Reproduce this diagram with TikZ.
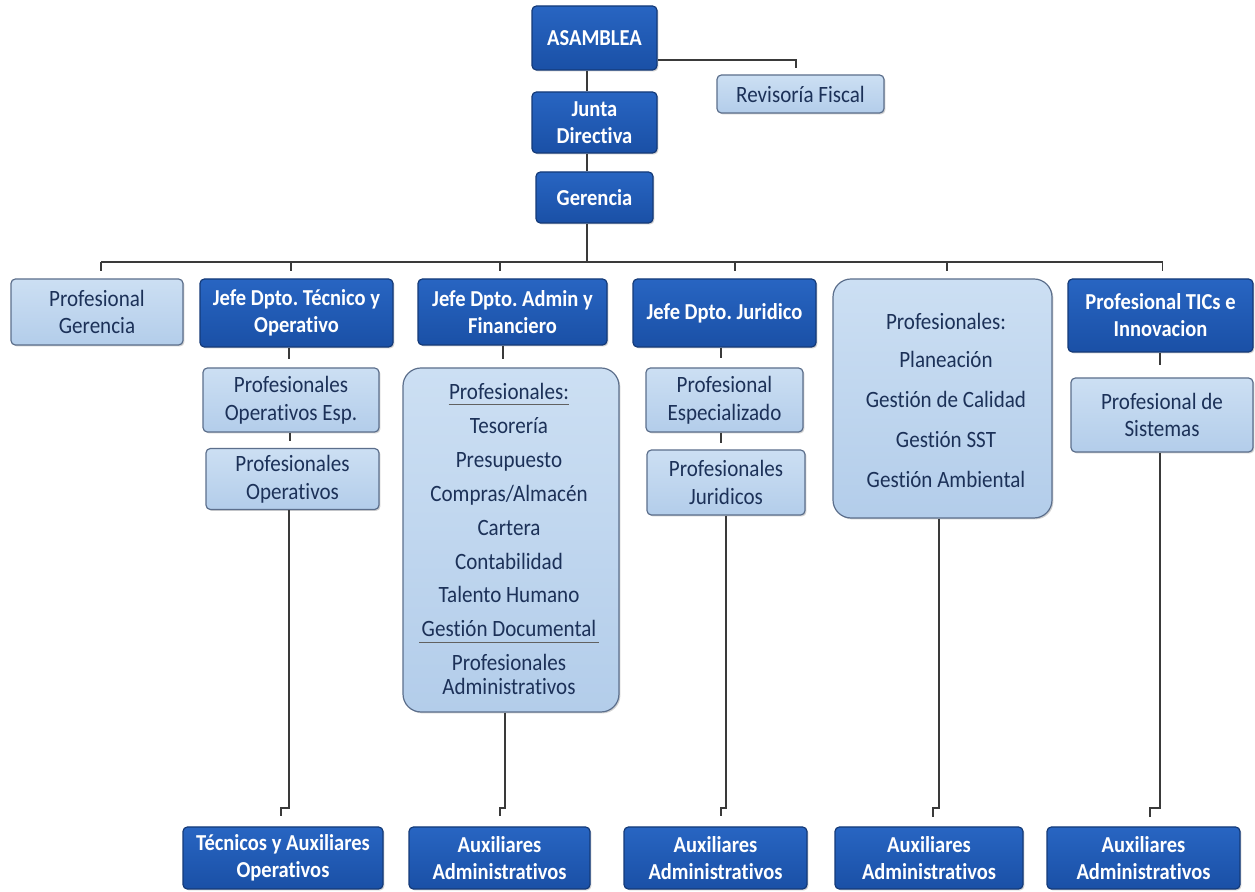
\documentclass[tikz,border=0pt]{standalone}
\usepackage{fontspec}
\setmainfont{Carlito}[FakeStretch=0.9,Ligatures=CommonOff]
\usetikzlibrary{calc,shadows}
\definecolor{dktop}{HTML}{2865C2}
\definecolor{dkbot}{HTML}{1A50A6}
\definecolor{dkline}{HTML}{143A78}
\definecolor{lttop}{HTML}{CCDFF3}
\definecolor{ltbot}{HTML}{B3CDEA}
\definecolor{ltline}{HTML}{5C6F8C}
\definecolor{txt}{HTML}{1C3158}
\definecolor{conn}{HTML}{3A3A3A}
\begin{document}
\frenchspacing
\begin{tikzpicture}[x=0.5pt,y=-0.5pt,
  box/.style={rectangle, rounded corners=2.2pt, line width=0.6pt, align=center, inner sep=1pt,
    drop shadow={shadow xshift=0.7pt, shadow yshift=-0.7pt, opacity=0.18, fill=black}},
  dk/.style={box, draw=dkline, top color=dktop, bottom color=dkbot, text=white,
    font=\fontsize{11.4}{13.5}\selectfont\bfseries},
  lt/.style={box, draw=ltline, top color=lttop, bottom color=ltbot, text=txt,
    font=\fontsize{11.7}{13.8}\selectfont},
  big/.style={lt, rounded corners=9pt},
  item/.style={text=txt, inner sep=0pt, anchor=base, font=\fontsize{11.7}{12}\selectfont},
  ln/.style={draw=conn, line width=0.75pt},
  ul/.style={draw=conn!80, line width=0.5pt}
]
\useasboundingbox (0,0) rectangle (1255,892);
\fill[white] (0,0) rectangle (1255,892);

% top chain
\node[dk, minimum width=62.5pt, minimum height=32pt] (asam) at (594.5,38) {ASAMBLEA};
\node[lt, minimum width=83.5pt, minimum height=19pt] (rev) at (800.5,94) {Revisoría Fiscal};
\node[dk, minimum width=62.5pt, minimum height=30.5pt] (junta) at (594.5,122.5) {Junta\\Directiva};
\node[dk, minimum width=58.5pt, minimum height=25.5pt] (ger) at (594.5,197.5) {Gerencia};

% second row
\node[lt, minimum width=86pt, minimum height=33pt] (pg) at (97,312) {Profesional\\Gerencia};
\node[dk, minimum width=96.5pt, minimum height=34pt] (jt) at (296.5,313) {Jefe Dpto. Técnico y\\Operativo};
\node[dk, minimum width=94.5pt, minimum height=33pt] (ja) at (512.5,312) {Jefe Dpto. Admin y\\Financiero};
\node[dk, minimum width=91.5pt, minimum height=34pt] (jj) at (724.5,313) {Jefe Dpto. Juridico};
\node[big, minimum width=109.5pt, minimum height=119.5pt] (pbig) at (942.5,398.5) {};
\node[dk, minimum width=92.5pt, minimum height=36.5pt] (tics) at (1160.5,315.5) {Profesional TICs e\\Innovacion};

% technical column
\node[lt, minimum width=88pt, minimum height=32pt] (poe) at (291,400) {Profesionales\\Operativos Esp.};
\node[lt, minimum width=86.5pt, minimum height=30.5pt] (po) at (292.5,479) {Profesionales\\Operativos};

% admin column
\node[big, minimum width=108pt, minimum height=172pt] (pa) at (511,540) {};
\node[item] (a1) at (509,400) {Profesionales:};
\node[item] (a2) at (509,434) {Tesorería};
\node[item] (a3) at (509,468) {Presupuesto};
\node[item] (a4) at (509,502) {Compras/Almacén};
\node[item] (a5) at (509,536) {Cartera};
\node[item] (a6) at (509,570) {Contabilidad};
\node[item] (a7) at (509,603) {Talento Humano};
\node[item] (a8) at (509,637) {Gestión Documental};
\node[item] (a9) at (509,671) {Profesionales};
\node[item] (a10) at (509,695) {Administrativos};
\draw[ul] ([yshift=-2.2pt]a1.base west) -- ([yshift=-2.2pt]a1.base east);
\draw[ul] ([yshift=-2.6pt,xshift=-1pt]a8.base west) -- ([yshift=-2.6pt,xshift=1pt]a8.base east);

% juridico column
\node[lt, minimum width=78.5pt, minimum height=32pt] (pe) at (724.5,400) {Profesional\\Especializado};
\node[lt, minimum width=79pt, minimum height=32.5pt] (pj) at (726,482.5) {Profesionales\\Juridicos};

% big professionals box texts
\node[item] (b1) at (946,330) {Profesionales:};
\node[item] (b2) at (946,368) {Planeación};
\node[item] (b3) at (946,408) {Gestión de Calidad};
\node[item] (b4) at (946,448) {Gestión SST};
\node[item] (b5) at (946,488) {Gestión Ambiental};

% tics column
\node[lt, minimum width=91pt, minimum height=37pt] (ps) at (1162,415) {Profesional de\\Sistemas};

% bottom row
\node[dk, minimum width=100pt, minimum height=31pt] (tec) at (283,858) {Técnicos y Auxiliares\\Operativos};
\node[dk, minimum width=90.5pt, minimum height=31pt] (aux1) at (499.5,858) {Auxiliares\\Administrativos};
\node[dk, minimum width=91.5pt, minimum height=31pt] (aux2) at (715.5,858) {Auxiliares\\Administrativos};
\node[dk, minimum width=94pt, minimum height=31pt] (aux3) at (929,858) {Auxiliares\\Administrativos};
\node[dk, minimum width=96.5pt, minimum height=31pt] (aux4) at (1143.5,858) {Auxiliares\\Administrativos};

% connectors: top
\draw[ln] ([xshift=-3.75pt]asam.south) -- ([xshift=-3.75pt]junta.north);
\draw[ln] ([xshift=-3.75pt]junta.south) -- ([xshift=-3.75pt]ger.north);
\draw[ln] ([yshift=-11pt]asam.east) -| ([xshift=-2.25pt,yshift=3pt]rev.north);

% bus
\coordinate (bus) at (0,262);
\draw[ln] ([xshift=-3.75pt]ger.south) -- ([xshift=-3.75pt]ger.south |- bus);
\draw[ln] ([xshift=2pt]pg.north |- bus) -- ([xshift=1pt]tics.north |- bus);
\draw[ln] ([xshift=2pt]pg.north |- bus) -- ++(0,9);
\draw[ln] ([xshift=-2.75pt]jt.north |- bus) -- ++(0,9);
\draw[ln] ([xshift=-6.25pt]ja.north |- bus) -- ++(0,9);
\draw[ln] ([xshift=5.25pt]jj.north |- bus) -- ++(0,9);
\draw[ln] ([xshift=2.25pt]pbig.north |- bus) -- ++(0,9);
\draw[ln] ([xshift=1pt]tics.north |- bus) -- ++(0,9);

% short ticks under heads
\draw[ln] ([xshift=-3.75pt]jt.south) -- ++(0,11);
\draw[ln] ([xshift=-0.5pt]poe.south) -- ++(0,8);
\draw[ln] ([xshift=-4.75pt]ja.south) -- ++(0,13);
\draw[ln] ([xshift=-1.75pt]jj.south) -- ++(0,10);
\draw[ln] ([xshift=-1.75pt]pe.south) -- ++(0,10);
\draw[ln] ([xshift=-0.25pt]tics.south) -- ++(0,12);

% long drops with jog
\coordinate (jog) at (0,808);
\draw[ln] ([xshift=-1.75pt]po.south) -- ([xshift=-1.75pt]po.south |- jog) -- ++(-8,0) -- ++(0,8);
\draw[ln] ([xshift=-3pt]pa.south) -- ([xshift=-3pt]pa.south |- jog) -- ++(-5,0) -- ++(0,8);
\draw[ln] (pj.south) -- (pj.south |- jog) -- ++(-5,0) -- ++(0,8);
\draw[ln] ([xshift=-1.75pt]pbig.south) -- ([xshift=-1.75pt]pbig.south |- jog) -- ++(-6,0) -- ++(0,9);
\draw[ln] ([xshift=-1pt]ps.south) -- ([xshift=-1pt]ps.south |- jog) -- ++(-10,0) -- ++(0,9);
\end{tikzpicture}
\end{document}
